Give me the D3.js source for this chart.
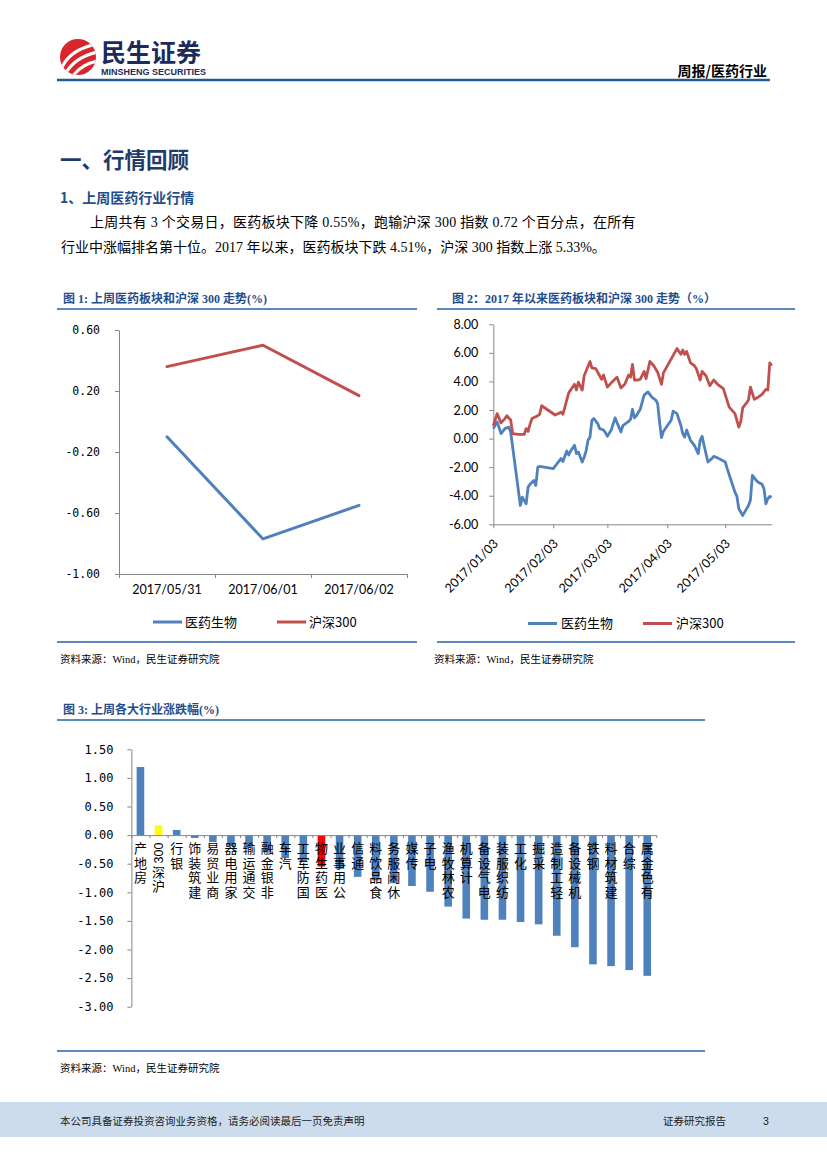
<!DOCTYPE html>
<html><head><meta charset="utf-8">
<script src="https://cdn.jsdelivr.net/npm/d3@7"></script>
<style>body{margin:0;background:#fff} svg{display:block}</style>
</head><body>
<svg id="page" width="827" height="1169"></svg>
<script>
// ---------- DATA ----------
const weekDates = ["2017/05/31", "2017/06/01", "2017/06/02"];
const weekPharma = [-0.10, -0.77, -0.55];
const weekHS300 = [0.36, 0.50, 0.17];
const weekTicks = [0.60, 0.20, -0.20, -0.60, -1.00];

const seriesNames = ["医药生物", "沪深300"];

const ytdPharmaDates = ["2017-01-03","2017-01-05","2017-01-07","2017-01-09","2017-01-11","2017-01-12","2017-01-17","2017-01-18","2017-01-19","2017-01-20","2017-01-21","2017-01-22","2017-01-24","2017-01-25","2017-01-26","2017-01-27","2017-02-03","2017-02-05","2017-02-07","2017-02-08","2017-02-10","2017-02-11","2017-02-12","2017-02-14","2017-02-15","2017-02-16","2017-02-18","2017-02-19","2017-02-20","2017-02-21","2017-02-22","2017-02-23","2017-02-24","2017-02-26","2017-02-27","2017-03-01","2017-03-02","2017-03-03","2017-03-05","2017-03-07","2017-03-10","2017-03-11","2017-03-14","2017-03-15","2017-03-16","2017-03-17","2017-03-18","2017-03-20","2017-03-22","2017-03-24","2017-03-26","2017-03-28","2017-03-29","2017-03-30","2017-03-31","2017-04-01","2017-04-03","2017-04-05","2017-04-06","2017-04-08","2017-04-10","2017-04-11","2017-04-12","2017-04-13","2017-04-15","2017-04-17","2017-04-19","2017-04-20","2017-04-21","2017-04-22","2017-04-24","2017-04-26","2017-04-27","2017-04-29","2017-05-03","2017-05-04","2017-05-06","2017-05-08","2017-05-09","2017-05-10","2017-05-12","2017-05-13","2017-05-15","2017-05-16","2017-05-17","2017-05-19","2017-05-20","2017-05-22","2017-05-23","2017-05-24","2017-05-25","2017-05-26","2017-05-27"];
const ytdPharmaValues = [0.70,1.17,0.35,0.70,0.80,0.46,-4.68,-4.10,-4.33,-4.56,-3.40,-3.20,-2.93,-3.28,-2.00,-1.95,-2.10,-1.75,-1.40,-1.60,-0.87,-1.15,-0.87,-0.47,-1.05,-0.94,-1.64,-1.30,-0.87,-0.12,0.10,1.28,1.40,1.05,0.70,0.60,0.42,0.16,0.60,1.45,0.46,0.90,1.20,1.35,2.05,1.45,1.60,2.05,3.04,3.27,2.90,2.70,2.46,1.17,0.07,0.50,0.90,1.28,1.92,1.75,0.93,0.35,0.10,0.60,-0.12,-0.47,-1.05,-0.12,0.16,-0.47,-1.64,-1.40,-1.24,-1.35,-1.64,-2.10,-2.93,-3.75,-4.05,-4.91,-5.38,-5.15,-4.68,-4.30,-2.58,-2.93,-3.05,-3.20,-3.50,-4.56,-4.20,-4.05,-4.10];

const ytdHS300Dates = ["2017-01-03","2017-01-05","2017-01-07","2017-01-09","2017-01-10","2017-01-12","2017-01-13","2017-01-16","2017-01-19","2017-01-20","2017-01-21","2017-01-22","2017-01-23","2017-01-26","2017-01-27","2017-01-28","2017-02-04","2017-02-07","2017-02-08","2017-02-11","2017-02-14","2017-02-15","2017-02-16","2017-02-18","2017-02-19","2017-02-22","2017-02-23","2017-02-25","2017-02-27","2017-02-28","2017-03-01","2017-03-03","2017-03-05","2017-03-08","2017-03-10","2017-03-12","2017-03-14","2017-03-15","2017-03-16","2017-03-17","2017-03-19","2017-03-20","2017-03-22","2017-03-23","2017-03-25","2017-03-27","2017-03-29","2017-03-31","2017-04-01","2017-04-08","2017-04-10","2017-04-11","2017-04-12","2017-04-13","2017-04-15","2017-04-17","2017-04-18","2017-04-20","2017-04-21","2017-04-23","2017-04-25","2017-04-27","2017-04-29","2017-05-02","2017-05-05","2017-05-08","2017-05-10","2017-05-11","2017-05-12","2017-05-14","2017-05-15","2017-05-16","2017-05-18","2017-05-20","2017-05-22","2017-05-24","2017-05-25","2017-05-26","2017-05-27"];
const ytdHS300Values = [0.90,1.75,1.10,1.40,1.60,1.30,0.35,0.30,0.30,0.70,0.50,1.00,1.40,1.60,1.70,2.30,1.65,1.85,1.70,3.20,3.80,3.40,3.95,3.40,4.40,5.40,4.95,4.90,4.40,4.15,4.45,3.60,3.90,4.30,3.55,3.80,4.45,4.30,5.20,4.10,4.10,4.15,4.70,4.20,5.40,5.10,4.65,3.80,4.60,6.30,5.90,6.20,5.90,6.10,5.30,5.10,4.90,4.10,4.70,4.40,3.70,4.10,3.80,3.50,2.20,1.75,0.80,1.20,2.15,2.50,2.70,3.60,2.75,2.90,3.10,3.45,3.40,5.30,5.10];
const ytdTicks = [8, 6, 4, 2, 0, -2, -4, -6];
const ytdDateTicks = ["2017-01-03", "2017-02-03", "2017-03-03", "2017-04-03", "2017-05-03"];

const industries = ["房地产","沪深300","银行","建筑装饰","商业贸易","家用电器","交通运输","非银金融","汽车","国防军工","医药生物","公用事业","通信","食品饮料","休闲服务","传媒","电子","农林牧渔","计算机","电气设备","纺织服装","化工","采掘","轻工制造","机械设备","钢铁","建筑材料","综合","有色金属"];
const industryChanges = [1.19,0.17,0.09,-0.05,-0.12,-0.19,-0.22,-0.30,-0.40,-0.47,-0.55,-0.59,-0.73,-0.79,-0.84,-0.89,-0.99,-1.25,-1.46,-1.48,-1.48,-1.52,-1.56,-1.76,-1.96,-2.26,-2.29,-2.36,-2.46];
const industryTicks = [1.5, 1.0, 0.5, 0.0, -0.5, -1.0, -1.5, -2.0, -2.5, -3.0];
const highlight = {"沪深300": "#ffff00", "医药生物": "#ff0000"};

// ---------- STYLE ----------
const svg = d3.select("#page");
const CJK = '"Noto Sans CJK SC", sans-serif';
const SERIF = '"Liberation Serif", "Noto Sans CJK SC", serif';
const MONO = '"DejaVu Sans Mono", monospace';
const LAT = 'Lato, "Liberation Sans", sans-serif';
const NAVY = "#1f4e8c";
const RULE = "#2462a4";
const AXIS = "#868686";
const BLUE = "#4f81bd", RED = "#c0504d", BAR = "#4f81bd";
const fmt2 = d => d.toFixed(2);

function txt(g, x, y, s, size, opts = {}) {
  return g.append("text").attr("x", x).attr("y", y).text(s)
    .attr("font-size", size).attr("font-family", opts.family || CJK)
    .attr("font-weight", opts.weight || 400).attr("fill", opts.fill || "#000")
    .attr("text-anchor", opts.anchor || "start")
    .attr("letter-spacing", opts.ls || 0);
}
function rule(x1, x2, y, w = 1.5, c = RULE) {
  svg.append("line").attr("x1", x1).attr("x2", x2).attr("y1", y).attr("y2", y)
    .attr("stroke", c).attr("stroke-width", w);
}
function styleAxis(sel, family, size) {
  sel.select(".domain").attr("stroke", AXIS).attr("stroke-width", 1);
  sel.selectAll(".tick line").attr("stroke", AXIS);
  sel.selectAll("text").attr("fill", "#000").attr("font-family", family).attr("font-size", size);
}

// ---------- HEADER ----------
const defs = svg.append("defs");
defs.append("clipPath").attr("id", "logoClip").append("circle").attr("cx", 78).attr("cy", 57).attr("r", 18);
const logo = svg.append("g");
logo.append("circle").attr("cx", 78).attr("cy", 57).attr("r", 18).attr("fill", "#d8262d");
const lg = logo.append("g").attr("clip-path", "url(#logoClip)");
["M61,70 Q68,50 97,44", "M64,76 Q74,57 98,52", "M70,80 Q80,64 98,61"].forEach(d =>
  lg.append("path").attr("d", d).attr("fill", "none").attr("stroke", "#fff").attr("stroke-width", 3.2));
txt(svg, 101, 62, "民生证券", 25, {weight: 700, fill: "#1d2b5b"});
txt(svg, 101, 75, "MINSHENG SECURITIES", 9, {weight: 700, fill: "#1d2b5b", family: '"Liberation Sans", sans-serif'});
txt(svg, 767, 76, "周报/医药行业", 14, {weight: 700, anchor: "end"});
rule(57, 770, 80, 2.5, "#1f5c99");

// ---------- SECTION TEXT ----------
txt(svg, 60, 168, "一、行情回顾", 21.5, {weight: 700, fill: "#1f3b6b"});
txt(svg, 60, 203, "1、上周医药行业行情", 14, {weight: 700, fill: "#1f4e8c"});
txt(svg, 90, 227, "上周共有 3 个交易日，医药板块下降 0.55%，跑输沪深 300 指数 0.72 个百分点，在所有", 14, {family: SERIF, ls: 0.25});
txt(svg, 61, 252, "行业中涨幅排名第十位。2017 年以来，医药板块下跌 4.51%，沪深 300 指数上涨 5.33%。", 14, {family: SERIF});

// ---------- CHART 1 ----------
{
  const g = svg.append("g");
  txt(g, 63, 303, "图 1: 上周医药板块和沪深 300 走势(%)", 12, {weight: 700, fill: NAVY, family: SERIF});
  rule(57, 417, 309);
  const xb = d3.scaleBand().domain(weekDates).range([119, 407]);
  const x = d3.scalePoint().domain(weekDates).range([119, 407]).padding(0.5);
  const y = d3.scaleLinear().domain([-1, 0.6]).range([574, 330]);
  const ya = g.append("g").attr("transform", "translate(119,0)")
    .call(d3.axisLeft(y).tickValues(weekTicks).tickSize(4).tickSizeOuter(0).tickPadding(15).tickFormat(fmt2));
  styleAxis(ya, MONO, 11.5);
  const xa = g.append("g").attr("transform", "translate(0,574)")
    .call(d3.axisBottom(xb).tickSize(0).tickSizeOuter(0).tickPadding(11));
  styleAxis(xa, LAT, 12.5);
  const xi = d3.scaleLinear().domain([0, weekDates.length]).range(xb.range());
  const xt = g.append("g").attr("transform", "translate(0,574)")
    .call(d3.axisBottom(xi).tickValues(d3.range(weekDates.length + 1)).tickSize(4).tickFormat(""));
  styleAxis(xt, LAT, 12);
  const line = d3.line().x((d, i) => x(weekDates[i])).y(d => y(d));
  [[weekPharma, BLUE], [weekHS300, RED]].forEach(([vals, c]) =>
    g.append("path").attr("d", line(vals)).attr("fill", "none").attr("stroke", c)
      .attr("stroke-width", 3).attr("stroke-linejoin", "round").attr("stroke-linecap", "round"));
  // legend
  [[153, BLUE], [277, RED]].forEach(([lx, c], i) => {
    g.append("line").attr("x1", lx).attr("x2", lx + 29).attr("y1", 622).attr("y2", 622).attr("stroke", c).attr("stroke-width", 3);
    txt(g, lx + 32, 626.5, seriesNames[i], 13);
  });
  rule(57, 417, 642);
  txt(g, 60, 663, "资料来源：Wind，民生证券研究院", 10.5, {family: SERIF});
}

// ---------- CHART 2 ----------
{
  const g = svg.append("g");
  const parse = d3.timeParse("%Y-%m-%d");
  txt(g, 452, 303, "图 2：2017 年以来医药板块和沪深 300 走势（%）", 12, {weight: 700, fill: NAVY, family: SERIF});
  rule(437, 795, 309);
  const x = d3.scaleTime().domain([parse(ytdPharmaDates[0]), parse(ytdPharmaDates[ytdPharmaDates.length - 1])]).range([493.3, 771.7]);
  const y = d3.scaleLinear().domain([-6, 8]).range([524.3, 324.3]);
  const ya = g.append("g").attr("transform", "translate(493.3,0)")
    .call(d3.axisLeft(y).tickValues(ytdTicks).tickSize(4).tickSizeOuter(0).tickPadding(11).tickFormat(fmt2));
  styleAxis(ya, LAT, 12.5);
  const xa = g.append("g").attr("transform", "translate(0,524.3)")
    .call(d3.axisBottom(x).tickValues(ytdDateTicks.map(parse)).tickSize(4).tickSizeOuter(0).tickFormat(d3.timeFormat("%Y/%m/%d")));
  styleAxis(xa, LAT, 12.5);
  xa.selectAll(".tick text").attr("x", 0).attr("y", 0).attr("dy", "0.35em")
    .attr("text-anchor", "end").attr("transform", "translate(2,17) rotate(-45)");
  const line = d3.line().x(d => x(parse(d[0]))).y(d => y(d[1]));
  [[d3.zip(ytdPharmaDates, ytdPharmaValues), BLUE], [d3.zip(ytdHS300Dates, ytdHS300Values), RED]].forEach(([pts, c]) =>
    g.append("path").attr("d", line(pts)).attr("fill", "none").attr("stroke", c)
      .attr("stroke-width", 2.8).attr("stroke-linejoin", "round"));
  [[528, BLUE], [643, RED]].forEach(([lx, c], i) => {
    g.append("line").attr("x1", lx).attr("x2", lx + 29).attr("y1", 623.5).attr("y2", 623.5).attr("stroke", c).attr("stroke-width", 3);
    txt(g, lx + 33, 628, seriesNames[i], 13);
  });
  rule(437, 795, 642);
  txt(g, 434, 663, "资料来源：Wind，民生证券研究院", 10.5, {family: SERIF});
}

// ---------- CHART 3 ----------
{
  const g = svg.append("g");
  txt(g, 63, 714, "图 3: 上周各大行业涨跌幅(%)", 12, {weight: 700, fill: NAVY, family: SERIF});
  rule(57, 705, 720);
  const x = d3.scaleBand().domain(industries).range([131.4, 656.3]).paddingInner(0.58).paddingOuter(0.29);
  const y = d3.scaleLinear().domain([-3, 1.5]).range([1006.7, 749.3]);
  g.selectAll("rect.bar").data(industries).join("rect").attr("class", "bar")
    .attr("x", d => x(d)).attr("width", x.bandwidth())
    .attr("y", (d, i) => y(Math.max(0, industryChanges[i])))
    .attr("height", (d, i) => Math.abs(y(industryChanges[i]) - y(0)))
    .attr("fill", d => highlight[d] || BAR);
  const ya = g.append("g").attr("transform", "translate(131.4,0)")
    .call(d3.axisLeft(y).tickValues(industryTicks).tickSize(4).tickSizeOuter(0).tickPadding(14).tickFormat(fmt2));
  styleAxis(ya, MONO, 12);
  const xi = d3.scaleLinear().domain([0, industries.length]).range(x.range());
  const xa = g.append("g").attr("transform", `translate(0,${y(0)})`)
    .call(d3.axisBottom(xi).tickValues(d3.range(industries.length + 1)).tickSize(3).tickSizeOuter(0).tickFormat(""));
  styleAxis(xa, LAT, 12);
  // vertical category labels: read bottom-to-top, CJK glyphs upright, latin runs rotated
  const FS = 13, STEP = 14.5;
  const lab = g.append("g").attr("font-family", CJK).attr("font-size", FS).attr("fill", "#000");
  industries.forEach(name => {
    const cx = x(name) + x.bandwidth() / 2;
    const runs = name.match(/[\x00-\x7F]+|[^\x00-\x7F]+/g);
    let yy = y(0) + 6.5;
    for (let i = runs.length - 1; i >= 0; i--) {
      const r = runs[i];
      if (/^[\x00-\x7F]+$/.test(r)) {
        const t = lab.append("text").attr("transform", `translate(${cx},${yy + 1}) rotate(-90)`)
          .attr("text-anchor", "end").attr("dy", "0.35em").attr("font-family", '"Liberation Sans", sans-serif')
          .attr("font-size", 12.5).text(r);
        yy += t.node().getComputedTextLength() + 3;
      } else {
        const s = Array.from(r).reverse().join("");
        lab.append("text").attr("x", cx).attr("y", yy)
          .style("writing-mode", "vertical-rl").style("text-orientation", "upright")
          .attr("letter-spacing", STEP - FS).text(s);
        yy += s.length * STEP;
      }
    }
  });
  rule(57, 705, 1051);
  txt(g, 60, 1072, "资料来源：Wind，民生证券研究院", 10.5, {family: SERIF});
}

// ---------- FOOTER ----------
svg.append("rect").attr("x", 0).attr("y", 1102).attr("width", 827).attr("height", 35).attr("fill", "#cddcec");
txt(svg, 60, 1125, "本公司具备证券投资咨询业务资格，请务必阅读最后一页免责声明", 10.5, {fill: "#222"});
txt(svg, 663, 1125, "证券研究报告", 10.5, {fill: "#222"});
txt(svg, 763, 1125, "3", 10.5, {fill: "#222", family: '"Liberation Sans", sans-serif'});
</script>
</body></html>
